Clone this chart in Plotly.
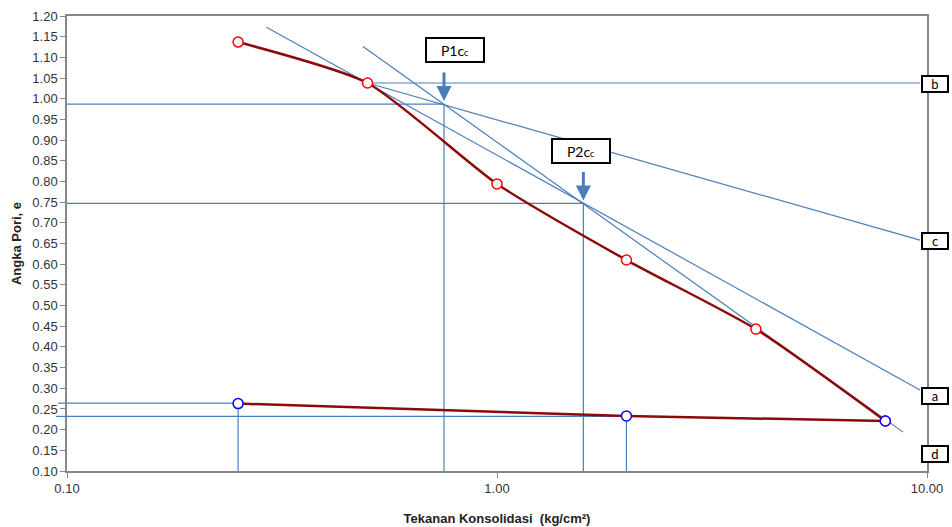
import numpy as np
import plotly.graph_objects as go

# Data: loading curve (pressure kg/cm2, void ratio e)
load_p = [0.25, 0.5, 1.0, 2.0, 4.0, 8.0]
load_e = [1.137, 1.038, 0.794, 0.610, 0.443, 0.221]
# Unloading curve
unload_p = [8.0, 2.0, 0.25]
unload_e = [0.221, 0.233, 0.263]

# Construction lines (Casagrande)
line_steep_p = [0.488, 8.80]
line_steep_e = [1.126, 0.194]
line_a_p = [0.291, 9.63]
line_a_e = [1.173, 0.296]
line_c_p = [0.5, 9.63]
line_c_e = [1.038, 0.658]
line_b_p = [0.5, 9.63]
line_b_e = [1.038, 1.038]

p1_p, p1_e = 0.753, 0.987
p2_p, p2_e = 1.588, 0.747

x_ticks = [0.1, 1, 10]
x_ticktext = ["0.10", "1.00", "10.00"]

BLUE = "#4A7EBB"
RED_LINE = "#8B0A0A"
XMIN = 0.1

fig = go.Figure()

def bline(xs, ys):
    fig.add_trace(go.Scatter(x=xs, y=ys, mode="lines",
                             line=dict(color=BLUE, width=1.2),
                             showlegend=False, hoverinfo="skip"))

# construction lines
bline(line_b_p, line_b_e)
bline(line_c_p, line_c_e)
bline(line_a_p, line_a_e)
bline(line_steep_p, line_steep_e)
# P1 guides
bline([XMIN, p1_p], [p1_e, p1_e])
bline([p1_p, p1_p], [p1_e, 0.10])
# P2 guides
bline([XMIN, p2_p], [p2_e, p2_e])
bline([p2_p, p2_p], [p2_e, 0.10])
# unloading guides
bline([XMIN, unload_p[2]], [0.264, 0.264])
bline([unload_p[2], unload_p[2]], [unload_e[2], 0.10])
bline([XMIN, unload_p[1]], [0.232, 0.232])
bline([unload_p[1], unload_p[1]], [unload_e[1], 0.10])

# stubs extending left of the axis
fig.add_shape(type="line", xref="paper", yref="y", x0=-0.0105, x1=0.0,
              y0=0.264, y1=0.264, line=dict(color=BLUE, width=1.2))
fig.add_shape(type="line", xref="paper", yref="y", x0=-0.0128, x1=0.0,
              y0=0.232, y1=0.232, line=dict(color=BLUE, width=1.2))

# curves
fig.add_trace(go.Scatter(x=load_p, y=load_e, mode="lines+markers",
                         line=dict(color=RED_LINE, width=2.5, shape="spline", smoothing=0.6),
                         marker=dict(symbol="circle", size=10, color="white",
                                     line=dict(color="#FF0000", width=1.5)),
                         showlegend=False))
fig.add_trace(go.Scatter(x=unload_p, y=unload_e, mode="lines+markers",
                         line=dict(color=RED_LINE, width=2.5, shape="spline", smoothing=0.6),
                         marker=dict(symbol="circle", size=10, color="white",
                                     line=dict(color="#0000FF", width=1.5)),
                         showlegend=False))

annos = []
box_font = dict(family="Lato, Open Sans, sans-serif", size=13, color="black")
for lab, yv in [("b", 1.035), ("c", 0.655), ("a", 0.282), ("d", 0.14)]:
    annos.append(dict(text=lab, xref="paper", yref="y", x=1.0093, y=yv,
                      showarrow=False, font=box_font, bgcolor="white",
                      bordercolor="black", borderwidth=2, borderpad=0,
                      width=24, height=14, xanchor="center", yanchor="middle"))

for lab, px, pe, yb in [("P1c", p1_p, p1_e, 1.117), ("P2c", p2_p, p2_e, 0.873)]:
    annos.append(dict(text=lab + '<span style="font-size:9px">c</span>',
                      xref="x", yref="y", x=np.log10(px) + 0.026 if lab == "P1c" else np.log10(px) - 0.005,
                      y=yb, showarrow=False, font=dict(family="Lato, Open Sans, sans-serif", size=14, color="black"),
                      bgcolor="white",
                      bordercolor="black", borderwidth=2, borderpad=2,
                      width=52, height=18, xanchor="center", yanchor="middle"))
    annos.append(dict(text="", xref="x", yref="y", x=np.log10(px), y=pe,
                      ax=0, ay=-33, showarrow=True, arrowhead=2, arrowsize=1,
                      arrowwidth=3, arrowcolor=BLUE, standoff=3))

fig.update_layout(
    width=952, height=527,
    margin=dict(l=67, r=25, t=16, b=56, autoexpand=False),
    plot_bgcolor="white", paper_bgcolor="white",
    font=dict(family="Liberation Sans, Arial, sans-serif", size=13, color="#333333"),
    annotations=annos,
    xaxis=dict(type="log", range=[-1, 1], tickvals=x_ticks, ticktext=x_ticktext,
               showgrid=False, zeroline=False, showline=True, linecolor="#878787",
               linewidth=1.5, mirror=True, ticks="outside", ticklen=5, tickcolor="#878787",
               automargin=False,
               title=dict(text="<b>Tekanan Konsolidasi  (kg/cm²)</b>",
                          font=dict(size=13, color="#222222"), standoff=19)),
    yaxis=dict(range=[0.10, 1.20], dtick=0.05, tick0=0.10, tickformat=".2f",
               showgrid=False, zeroline=False, showline=True, linecolor="#878787",
               linewidth=1.5, mirror=True, ticks="outside", ticklen=5, tickcolor="#878787",
               automargin=False,
               title=dict(text="<b>Angka Pori, e</b>",
                          font=dict(size=13, color="#222222"), standoff=8)),
)

fig.write_html("out.html")
